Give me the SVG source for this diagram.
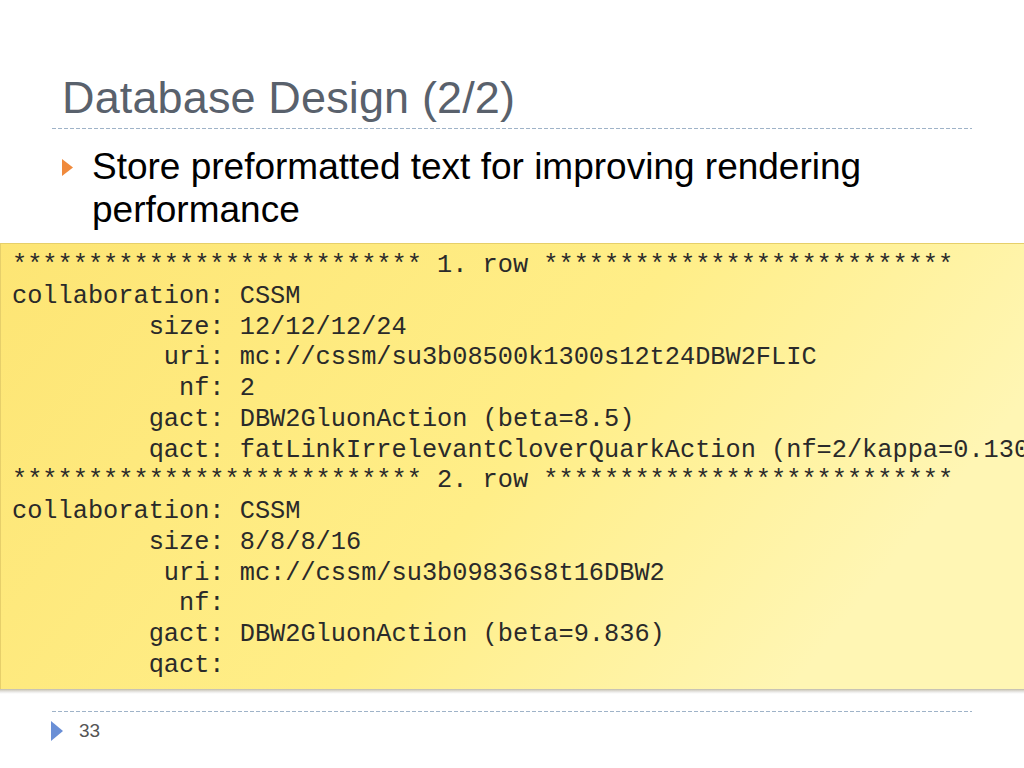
<svg xmlns="http://www.w3.org/2000/svg" width="1024" height="768" viewBox="0 0 1024 768">
<defs>
<linearGradient id="yel" x1="0" y1="0" x2="1" y2="0.35">
<stop offset="0" stop-color="#fde574"/>
<stop offset="0.6" stop-color="#ffee88"/>
<stop offset="1" stop-color="#fff6b4"/>
</linearGradient>
<linearGradient id="shd" x1="0" y1="0" x2="0" y2="1">
<stop offset="0" stop-color="#9a9070" stop-opacity="0.8"/>
<stop offset="1" stop-color="#c0c0c0" stop-opacity="0"/>
</linearGradient>
<style>
.title{font-family:"Liberation Sans",Arial,sans-serif;font-size:45px;fill:#59616c}
.bul{font-family:"Liberation Sans",Arial,sans-serif;font-size:37px;fill:#000}
.mono{font-family:"Liberation Mono","Courier New",monospace;font-size:25.3px;fill:#2a2a2a;white-space:pre}
.dash{stroke:#9fb3c8;stroke-width:1;stroke-dasharray:4 2;fill:none}
.num{font-family:"Liberation Sans",Arial,sans-serif;font-size:19px;fill:#555}
</style>
</defs>
<rect width="1024" height="768" fill="#fff"/>
<g id="title">
<text class="title" x="62" y="113" textLength="453" lengthAdjust="spacing">Database Design (2/2)</text>
</g>
<g id="rules">
<line class="dash" x1="52" y1="128.5" x2="972" y2="128.5"/>
<line class="dash" x1="52" y1="711.5" x2="972" y2="711.5"/>
</g>
<g id="bullet">
<polygon points="62,159 73,167.5 62,176" fill="#f08a3c"/>
<text class="bul" x="92" y="179">Store preformatted text for improving rendering</text>
<text class="bul" x="92" y="222">performance</text>
</g>
<g id="codebox">
<rect x="0" y="688" width="1024" height="6" fill="url(#shd)"/>
<rect x="0" y="243" width="1024" height="446" fill="url(#yel)"/>
<line x1="0" y1="243.5" x2="1024" y2="243.5" stroke="#e6cf6a" stroke-width="1"/>
<line x1="0.5" y1="243" x2="0.5" y2="689" stroke="#e6cf6a" stroke-width="1"/>
<text class="mono" xml:space="preserve">
<tspan x="12" y="272">*************************** 1. row ***************************</tspan>
<tspan x="12" y="302.75">collaboration: CSSM</tspan>
<tspan x="12" y="333.5">         size: 12/12/12/24</tspan>
<tspan x="12" y="364.25">          uri: mc://cssm/su3b08500k1300s12t24DBW2FLIC</tspan>
<tspan x="12" y="395">           nf: 2</tspan>
<tspan x="12" y="425.75">         gact: DBW2GluonAction (beta=8.5)</tspan>
<tspan x="12" y="456.5">         qact: fatLinkIrrelevantCloverQuarkAction (nf=2/kappa=0.130</tspan>
<tspan x="12" y="487.25">*************************** 2. row ***************************</tspan>
<tspan x="12" y="518">collaboration: CSSM</tspan>
<tspan x="12" y="548.75">         size: 8/8/8/16</tspan>
<tspan x="12" y="579.5">          uri: mc://cssm/su3b09836s8t16DBW2</tspan>
<tspan x="12" y="610.25">           nf:</tspan>
<tspan x="12" y="641">         gact: DBW2GluonAction (beta=9.836)</tspan>
<tspan x="12" y="671.75">         qact:</tspan>
</text>
</g>
<g id="footer">
<polygon points="51,721 63,731 51,741" fill="#6a8fd6"/>
<text class="num" x="79" y="737">33</text>
</g>
</svg>
